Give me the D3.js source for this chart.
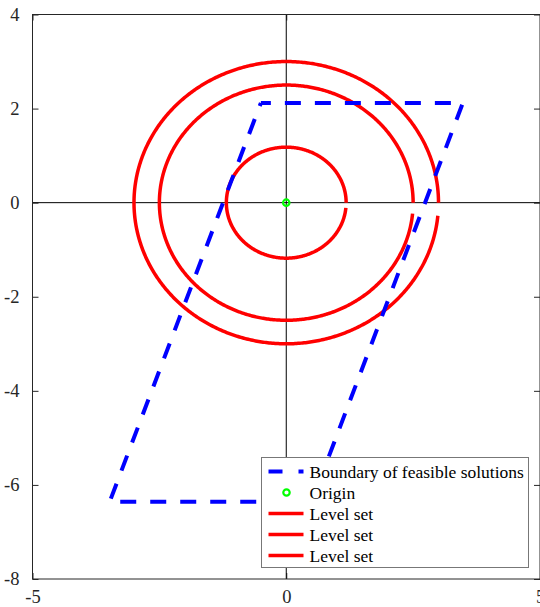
<!DOCTYPE html>
<html>
<head>
<meta charset="utf-8">
<script src="https://cdn.jsdelivr.net/npm/d3@7"></script>
<style>
  body { margin: 0; background: #fff; }
  svg text { font-family: "Liberation Serif", "Times New Roman", serif; }
</style>
</head>
<body>
<script>
var width = 540,
    height = 607;

// data
var xTicks = [-5, 0, 5];
var yTicks = [-8, -6, -4, -2, 0, 2, 4];
var boundaryX = [-0.5, 3.48, 0.5, -3.48, -0.5];
var boundaryY = [2.12, 2.12, -6.36, -6.36, 2.12];
var origin = [0, 0];
var levelRadii = [1.18, 2.5, 3.0];
var legendLabels = ["Boundary of feasible solutions", "Origin", "Level set", "Level set", "Level set"];

var mLeft = 32.5, mTop = 14.5, mRight = 540, mBottom = 579;

var x = d3.scaleLinear().domain([-5, 5]).range([mLeft, mRight]);
var y = d3.scaleLinear().domain([-8, 4]).range([mBottom, mTop]);

var svg = d3.select('body').append('svg')
    .attr('width', width)
    .attr('height', height);

/* ============================ AXES ============================ */
var tickLen = 6;
var fmt = d => String(d);

function styleAxis(g) {
  g.select('.domain').remove();
  g.attr('font-family', '"Liberation Serif", serif').attr('font-size', 18.5);
  g.selectAll('line').attr('stroke', '#262626');
  g.selectAll('text').attr('fill', '#262626');
}

svg.append('g')
    .attr('transform', 'translate(' + mLeft + ',0)')
    .call(d3.axisLeft(y).tickValues(yTicks).tickSize(-tickLen).tickPadding(13).tickFormat(fmt))
    .call(styleAxis);

svg.append('g')
    .attr('transform', 'translate(' + mRight + ',0)')
    .call(d3.axisRight(y).tickValues(yTicks).tickSize(-tickLen).tickFormat(''))
    .call(styleAxis);

svg.append('g')
    .attr('transform', 'translate(0,' + mBottom + ')')
    .call(d3.axisBottom(x).tickValues(xTicks).tickSize(-tickLen).tickPadding(11).tickFormat(fmt))
    .call(styleAxis);

svg.append('g')
    .attr('transform', 'translate(0,' + mTop + ')')
    .call(d3.axisTop(x).tickValues(xTicks).tickSize(-tickLen).tickFormat(''))
    .call(styleAxis);

// zero lines
svg.append('line')
    .attr('x1', mLeft).attr('x2', mRight)
    .attr('y1', y(0)).attr('y2', y(0))
    .attr('stroke', '#000').attr('stroke-width', 1);
svg.append('line')
    .attr('x1', x(0)).attr('x2', x(0))
    .attr('y1', mTop).attr('y2', mBottom)
    .attr('stroke', '#000').attr('stroke-width', 1);

/* ============================ LEVEL SETS ============================ */
var line = d3.line().x(d => x(d[0])).y(d => y(d[1]));
var gap = 0.09;

levelRadii.forEach(function(r) {
  var pts = d3.range(0, 2 * Math.PI - gap, 0.01).map(t => [r * Math.cos(t), r * Math.sin(t)]);
  svg.append('path')
      .attr('d', line(pts))
      .attr('fill', 'none')
      .attr('stroke', '#ff0000')
      .attr('stroke-width', 3.5);
});

/* ============================ BOUNDARY ============================ */
var boundary = boundaryX.map((v, i) => [v, boundaryY[i]]);
svg.append('path')
    .attr('d', line(boundary))
    .attr('fill', 'none')
    .attr('stroke', '#0000ff')
    .attr('stroke-width', 4)
    .attr('stroke-dasharray', '16,14')
    .attr('stroke-dashoffset', 6);

svg.append('circle')
    .attr('cx', x(origin[0]))
    .attr('cy', y(origin[1]))
    .attr('r', 3.2)
    .attr('fill', 'none')
    .attr('stroke', '#00ff00')
    .attr('stroke-width', 2.2);

/* ============================ BOX ============================ */
svg.append('rect')
    .attr('x', mLeft).attr('y', mTop)
    .attr('width', mRight - mLeft).attr('height', mBottom - mTop)
    .attr('fill', 'none')
    .attr('stroke', '#262626')
    .attr('stroke-width', 1);

/* ============================ LEGEND ============================ */
var lg = svg.append('g').attr('transform', 'translate(261.5,457.5)');
lg.append('rect')
    .attr('width', 267).attr('height', 110)
    .attr('fill', '#fff')
    .attr('stroke', '#777')
    .attr('stroke-width', 1);

var rows = lg.selectAll('.row')
    .data(legendLabels)
  .enter().append('g')
    .attr('transform', (d, i) => 'translate(0,' + (14 + i * 21) + ')');

rows.append('text')
    .attr('x', 48)
    .attr('dy', '0.35em')
    .style('font-size', '17.5px')
    .attr('fill', '#000')
    .text(d => d);

rows.filter((d, i) => i === 0).append('line')
    .attr('x1', 7).attr('x2', 42)
    .attr('stroke', '#0000ff').attr('stroke-width', 4)
    .attr('stroke-dasharray', '14,16');

rows.filter((d, i) => i === 1).append('circle')
    .attr('cx', 25).attr('r', 3.2)
    .attr('fill', 'none')
    .attr('stroke', '#00ff00').attr('stroke-width', 2.2);

rows.filter((d, i) => i > 1).append('line')
    .attr('x1', 7).attr('x2', 42)
    .attr('stroke', '#ff0000').attr('stroke-width', 3.5);
</script>
</body>
</html>
